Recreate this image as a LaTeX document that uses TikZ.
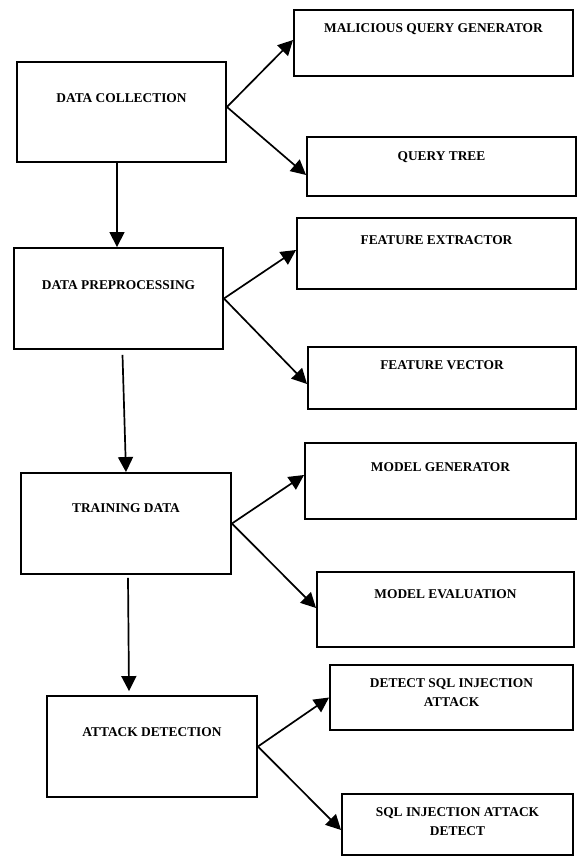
\documentclass[tikz,border=0pt]{standalone}
\usepackage{fontspec}
\setmainfont{Liberation Serif}
\usetikzlibrary{arrows.meta,positioning}

\begin{document}
\begin{tikzpicture}[x=1pt, y=-1pt,
  box/.style = {shape=rectangle, draw, line width=1.9pt, inner sep=0pt},
  lbl/.style = {align=center, inner sep=0pt,
    font=\bfseries\fontsize{13.4}{19}\selectfont},
  arr/.style = {line width=1.7pt, -{Triangle[length=15pt,width=15pt]}}]
  \useasboundingbox (0,0) rectangle (577,856);

  \node[box, minimum width=209, minimum height=100] (dc)   at (121.5,112)   {};
  \node[box, minimum width=279, minimum height=66]  (mqg)  at (433.5,43)    {};
  \node[box, minimum width=269, minimum height=59]  (qt)   at (441.5,166.5) {};
  \node[box, minimum width=279, minimum height=71]  (fe)   at (436.5,253.5) {};
  \node[box, minimum width=209, minimum height=101] (dp)   at (118.5,298.5) {};
  \node[box, minimum width=268, minimum height=62]  (fv)   at (442,378)     {};
  \node[box, minimum width=271, minimum height=76]  (mg)   at (440.5,481)   {};
  \node[box, minimum width=210, minimum height=101] (td)   at (126,523.5)   {};
  \node[box, minimum width=257, minimum height=75]  (me)   at (445.5,609.5) {};
  \node[box, minimum width=210, minimum height=101] (ad)   at (152,746.5)   {};
  \node[box, minimum width=243, minimum height=65]  (dsql) at (451.5,697.5) {};
  \node[box, minimum width=231, minimum height=61]  (siad) at (457.5,824.5) {};

  \node[lbl, below=32.5pt of dc.north]   (dc-t)   {DATA COLLECTION};
  \node[lbl, below=14.5pt of mqg.north]  (mqg-t)  {MALICIOUS QUERY GENERATOR};
  \node[lbl, below=15.5pt of qt.north]   (qt-t)   {QUERY TREE};
  \node[lbl, below=18.5pt of fe.north]   (fe-t)   {FEATURE EXTRACTOR};
  \node[lbl, below=33.5pt of dp.north]   (dp-t)   {DATA PREPROCESSING};
  \node[lbl, below=14.5pt of fv.north]   (fv-t)   {FEATURE VECTOR};
  \node[lbl, below=20.5pt of mg.north]   (mg-t)   {MODEL GENERATOR};
  \node[lbl, below=31.5pt of td.north]   (td-t)   {TRAINING DATA};
  \node[lbl, below=18.5pt of me.north]   (me-t)   {MODEL EVALUATION};
  \node[lbl, below=32.5pt of ad.north]   (ad-t)   {ATTACK DETECTION};
  \node[lbl, below=14.5pt of dsql.north] (dsql-t) {DETECT SQL INJECTION\\ATTACK};
  \node[lbl, below=14.5pt of siad.north] (siad-t) {SQL INJECTION ATTACK\\DETECT};

  \draw[arr] ([yshift=5]dc.east) -- ([yshift=3]mqg.west);
  \draw[arr] ([yshift=5]dc.east) -- ([yshift=-8.5]qt.west);
  \draw[arr] ([xshift=-4.5]dc.south) -- ([xshift=-1.5]dp.north);
  \draw[arr] (dp.east) -- ([yshift=3.5]fe.west);
  \draw[arr] (dp.east) -- ([yshift=-6]fv.west);
  \draw[arr] ([xshift=4,yshift=-5]dp.south) -- (td.north);
  \draw[arr] (td.east) -- ([yshift=6]mg.west);
  \draw[arr] (td.east) -- ([yshift=1.5]me.west);
  \draw[arr] ([xshift=2,yshift=-3]td.south) -- ([xshift=-23,yshift=4]ad.north);
  \draw[arr] (ad.east) -- (dsql.west);
  \draw[arr] (ad.east) -- ([yshift=-5.5]siad.west);
\end{tikzpicture}
\end{document}
